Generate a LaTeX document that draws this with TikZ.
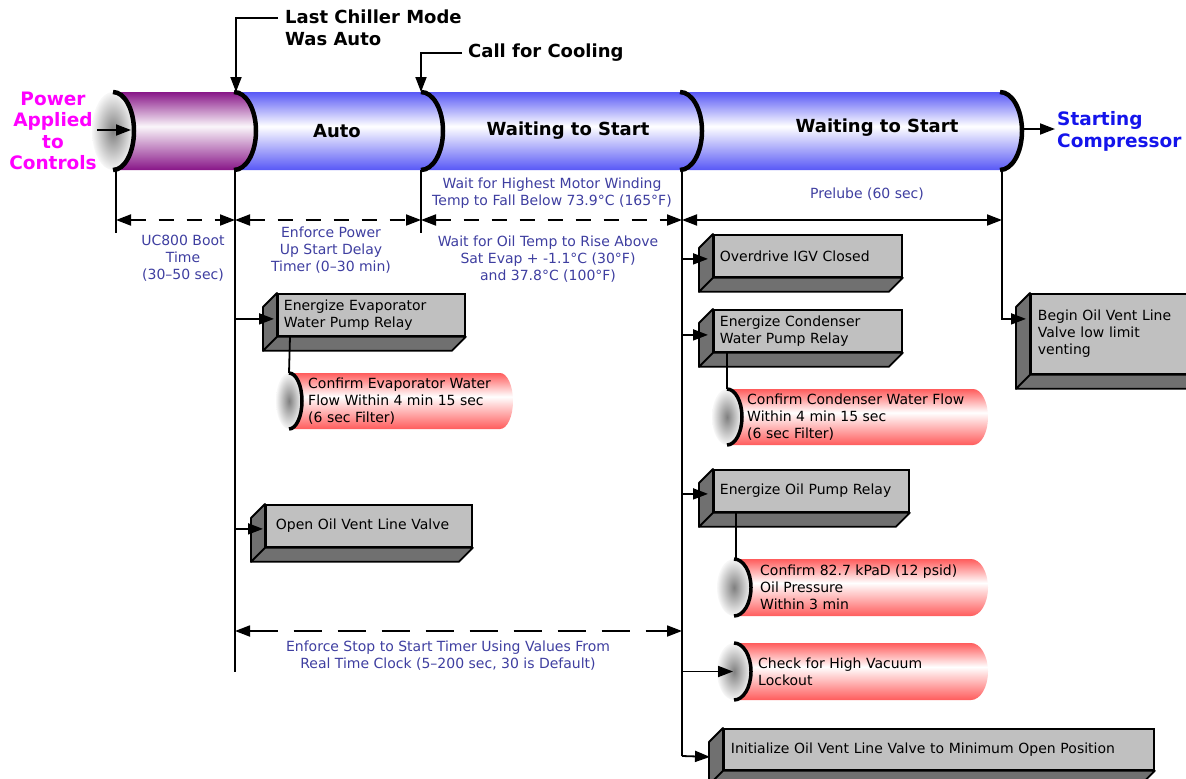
\documentclass[tikz,border=0pt]{standalone}
\usepackage{fontspec}
\setmainfont{DejaVu Sans}
\usetikzlibrary{arrows.meta}
\definecolor{tblue}{RGB}{88,88,246}
\definecolor{tpurp}{RGB}{136,22,136}
\definecolor{tred}{RGB}{255,92,92}
\definecolor{lblue}{RGB}{62,62,160}
\definecolor{boxfront}{RGB}{192,192,192}
\definecolor{boxside}{RGB}{112,112,112}
\definecolor{pmag}{RGB}{255,0,255}
\definecolor{sblue}{RGB}{20,20,235}
\pgfdeclareverticalshading{shblue}{100bp}{color(0bp)=(tblue);color(25bp)=(tblue);color(53bp)=(white);color(75bp)=(tblue);color(100bp)=(tblue)}
\pgfdeclareverticalshading{shpurp}{100bp}{color(0bp)=(tpurp);color(25bp)=(tpurp);color(53bp)=(tpurp!4);color(75bp)=(tpurp);color(100bp)=(tpurp)}
\pgfdeclareverticalshading{shred}{100bp}{color(0bp)=(tred);color(25bp)=(tred);color(54bp)=(white);color(75bp)=(tred);color(100bp)=(tred)}
\newcommand\lblfont{\fontsize{14}{17}\selectfont}
\newcommand\ttlfont{\bfseries\fontsize{18}{22}\selectfont}
\newcommand\bigfont{\bfseries\fontsize{18.5}{21.5}\selectfont}
\newcommand\gbox[7]{% name, x0, y0, w, h, xsep, text
  \pgfmathsetmacro\tw{#4-2*#6}
  \node[front, inner xsep=#6pt, minimum width=#4pt, minimum height=#5pt, text width=\tw pt] (#1) at (#2,#3) {#7};
  \filldraw[sideface] (#1.north west) -- ++(-14,14) -- ([shift={(-14,14)}]#1.south west) -- (#1.south west) -- cycle;
  \filldraw[sideface] (#1.south west) -- ++(-14,14) -- ([shift={(-14,14)}]#1.south east) -- (#1.south east) -- cycle;
}
\newcommand\rtube[8]{% name, cx, top, bottom, rx, xend, textx, text
  \pgfmathsetmacro\ry{(#4-#3)/2}
  \pgfmathsetmacro\xr{#6-#5}
  \pgfmathsetmacro\cy{(#3+#4)/2}
  \path[shading=shred] (#2,#3) -- (\xr,#3) arc[start angle=90,end angle=-90,x radius=#5pt,y radius=\ry pt] -- (#2,#4) -- cycle;
  \shade[inner color=black!50,outer color=black!3] (#2,\cy) ellipse[x radius=#5pt,y radius=\ry pt];
  \draw[line width=3.5pt] (#2,#3) arc[start angle=90,end angle=-90,x radius=#5pt,y radius=\ry pt];
  \coordinate (#1in) at (#2,\cy);
  \coordinate (#1top) at (#2,#3);
  \node[boxtxt,anchor=west] (#1) at (#7,\cy) {#8};
}
\newcommand\tseg[3]{% x0, x1, shading
  \path[shading=#3] (#1,92) -- (#2,92) arc[start angle=90,end angle=-90,x radius=22pt,y radius=39pt] -- (#1,170) -- cycle;
}
\begin{document}
\begin{tikzpicture}[x=1pt,y=-1pt,
  conn/.style={line width=1.8pt},
  arr/.style={conn,-{Triangle[length=15pt,width=11pt]}},
  dimline/.style={conn,{Triangle[length=15pt,width=11pt]}-{Triangle[length=15pt,width=11pt]}},
  dashdim/.style={dimline,dash pattern=on 15pt off 13pt},
  capline/.style={line width=4.5pt},
  front/.style={draw,line width=1.8pt,fill=boxfront,anchor=north west,align=left,font=\lblfont,inner ysep=0pt},
  sideface/.style={draw,line width=1.8pt,fill=boxside,line join=round},
  boxtxt/.style={align=left,font=\lblfont,inner sep=0pt},
  lbl/.style={text=lblue,align=center,font=\lblfont,inner sep=0pt},
  ttl/.style={align=left,font=\ttlfont,inner sep=0pt},
  tubelbl/.style={font=\ttlfont,inner sep=0pt}]
\useasboundingbox (0,0) rectangle (1186,779);
\clip (0,0) rectangle (1186,779);

% ---- main tube ----
\tseg{680}{1000}{shblue}
\tseg{421}{680}{shblue}
\tseg{234}{421}{shblue}
\tseg{113}{234}{shpurp}
\shade[inner color=black!50,outer color=black!3] (113,131) ellipse[x radius=21pt,y radius=39pt];
\foreach \xx in {1000,680,421,234}
  \draw[capline] (\xx,92) arc[start angle=90,end angle=-90,x radius=22pt,y radius=39pt];
\draw[capline] (113,92) arc[start angle=90,end angle=-90,x radius=21pt,y radius=39pt];

\node[tubelbl] (sauto) at (337,131) {Auto};
\node[tubelbl] (swait1) at (568,131) {Waiting to Start};
\node[tubelbl] (swait2) at (877,128) {Waiting to Start};

\coordinate (p0) at (116,170);
\coordinate (p1) at (235,170);
\coordinate (p2) at (421,170);
\coordinate (p3) at (682,170);
\coordinate (p4) at (1002,170);
\coordinate (t1) at (236,92);
\coordinate (t2) at (421,92);
\coordinate (tend) at (1023,129);
\coordinate (pw1) at (97,130);
\coordinate (pw2) at (131,130);

% ---- titles ----
\node[text=pmag,font=\bigfont,align=center,inner sep=0pt] (power) at (53,131) {Power\\Applied\\to\\Controls};
\draw[arr] (pw1) -- (pw2);
\node[ttl,anchor=west] (lcm) at (285,28) {Last Chiller Mode\\Was Auto};
\coordinate (lcmy) at (0,18);
\draw[arr] ([xshift=-7pt]lcm.west |- lcmy) -| (t1);
\node[ttl,anchor=west] (cfc) at (468,53) {Call for Cooling};
\draw[arr] ([xshift=-6pt]cfc.west) -| (t2);
\node[text=sblue,font=\bigfont,align=left,inner sep=0pt,anchor=west] (sc) at (1057,131.5) {Starting\\Compressor};
\draw[arr] (tend) -- ([xshift=-2pt]sc.west |- tend);

% ---- blue labels ----
\node[lbl] (boot) at (183,258) {UC800 Boot\\Time\\(30–50 sec)};
\node[lbl] (epu) at (331,250) {Enforce Power\\Up Start Delay\\Timer (0–30 min)};
\node[lbl] (whm) at (552,193.5) {Wait for Highest Motor Winding\\Temp to Fall Below 73.9°C (165°F)};
\node[lbl] (wot) at (548,259) {Wait for Oil Temp to Rise Above\\Sat Evap + -1.1°C (30°F)\\and 37.8°C (100°F)};
\node[lbl] (pre) at (867,194) {Prelube (60 sec)};
\node[lbl] (ests) at (448,655.5) {Enforce Stop to Start Timer Using Values From\\Real Time Clock (5–200 sec, 30 is Default)};

% ---- boxes ----
\gbox{b1}{277}{293}{187}{42}{6}{Energize Evaporator\\Water Pump Relay}
\gbox{b2}{265}{504}{206}{42}{10}{Open Oil Vent Line Valve}
\gbox{b3}{713}{234}{188}{42}{6}{Overdrive IGV Closed}
\gbox{b4}{713}{309}{188}{42}{6}{Energize Condenser\\Water Pump Relay}
\gbox{b5}{713}{469}{195}{42}{6}{Energize Oil Pump Relay}
\gbox{b6}{723}{728}{430}{41}{7}{Initialize Oil Vent Line Valve to Minimum Open Position}
\gbox{b7}{1030}{293}{170}{80}{7}{Begin Oil Vent Line\\Valve low limit\\venting}

% ---- red tubes ----
\rtube{r1}{289}{373}{429}{13}{513}{308}{Confirm Evaporator Water\\Flow Within 4 min 15 sec\\(6 sec Filter)}
\rtube{r2}{727}{389}{445}{15}{988}{747}{Confirm Condenser Water Flow\\Within 4 min 15 sec\\(6 sec Filter)}
\rtube{r3}{734}{559}{616}{17}{988}{760}{Confirm 82.7 kPaD (12 psid)\\Oil Pressure\\Within 3 min}
\rtube{r4}{734}{643}{700}{17}{988}{758}{Check for High Vacuum\\Lockout}

% ---- box to tube links ----
\draw[conn] (b1.south west -| 290,0) -- (r1top);
\draw[conn] (b4.south west -| 727,0) -- (r2top);
\draw[conn] (b5.south west -| 736,0) -- (736,559);

% ---- timeline connectors ----
\coordinate (p1end) at (235,672);
\coordinate (p3end) at (682,756);
\draw[conn] (p0) -- (116,233);
\draw[conn] (p2) -- (421,233);
\draw[conn] (p1) -- (p1end);
\draw[conn] (p3) -- (p3end);

\coordinate (b1in) at ([shift={(-3,4)}]b1.west);
\coordinate (b2in) at ([shift={(-2,3)}]b2.west);
\coordinate (b3in) at ([shift={(-5,3)}]b3.west);
\coordinate (b4in) at ([shift={(-5,4)}]b4.west);
\coordinate (b5in) at ([shift={(-5,3)}]b5.west);
\coordinate (b6in) at ([shift={(-13,7.5)}]b6.west);
\coordinate (b7in) at ([shift={(-4,-15)}]b7.west);
\draw[arr] (p1 |- b1in) -- (b1in);
\draw[arr] (p1 |- b2in) -- (b2in);
\draw[arr] (p3 |- b3in) -- (b3in);
\draw[arr] (p3 |- b4in) -- (b4in);
\draw[arr] (p3 |- b5in) -- (b5in);
\draw[arr] (p3 |- r4in) -- ([xshift=-1pt]r4in);
\draw[arr] (p3end) -- (b6in);
\draw[arr] (p4) |- (b7in);

% ---- dimension lines ----
\draw[dashdim] (116,220) -- (235,220);
\draw[dashdim] (235,220) -- (421,220);
\draw[dashdim] (421,220) -- (682,220);
\draw[dimline] (682,220) -- (1002,220);
\draw[dimline,dash pattern=on 28pt off 16pt] (235,631) -- (682,631);
\end{tikzpicture}
\end{document}
